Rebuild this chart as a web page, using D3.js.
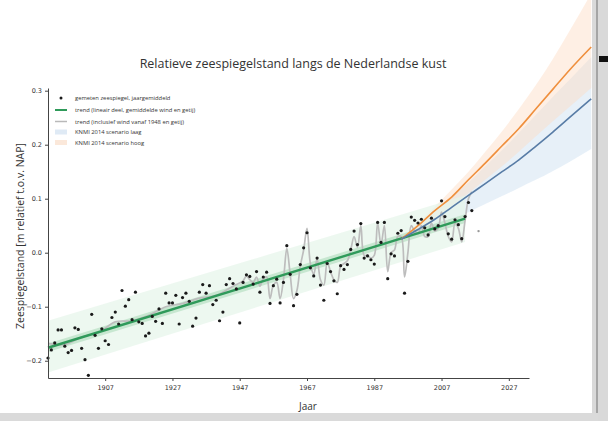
<!DOCTYPE html>
<html><head><meta charset="utf-8">
<script src="https://cdn.jsdelivr.net/npm/d3@7"></script>
<style>
html,body{margin:0;padding:0;background:#fff;}
svg{display:block;}
</style></head>
<body>
<svg id="c" width="608" height="421"></svg>
<script>
// ---- data ----
const years = d3.range(1890, 2017);
const measured = [
-0.195,-0.180,-0.167,-0.143,-0.143,-0.173,-0.185,-0.181,-0.139,-0.142,
-0.177,-0.198,-0.227,-0.114,-0.153,-0.177,-0.141,-0.163,-0.170,-0.120,
-0.110,-0.132,-0.070,-0.099,-0.087,-0.124,-0.073,-0.128,-0.131,-0.154,
-0.149,-0.118,-0.127,-0.104,-0.131,-0.075,-0.093,-0.093,-0.079,-0.132,
-0.083,-0.075,-0.090,-0.136,-0.121,-0.073,-0.059,-0.075,-0.061,-0.096,
-0.088,-0.126,-0.110,-0.059,-0.048,-0.057,-0.067,-0.130,-0.055,-0.041,
-0.044,-0.058,-0.035,-0.073,-0.045,-0.036,-0.094,-0.061,-0.049,-0.093,
-0.055,0.013,-0.040,-0.098,-0.077,-0.022,0.009,0.037,-0.028,-0.043,
-0.010,-0.060,-0.088,-0.020,-0.035,-0.052,-0.076,-0.024,-0.031,-0.022,
0.006,0.040,0.015,0.054,-0.010,-0.006,-0.013,-0.021,0.056,0.019,
0.056,-0.048,-0.002,-0.006,0.036,0.041,-0.075,-0.016,0.066,0.060,
0.055,0.062,0.046,0.033,0.064,0.044,0.050,0.096,0.067,0.035,
0.025,0.061,0.052,0.026,0.067,0.093,0.078];
const extraYear = [2018];
const extraValue = [0.040];

const trendYears = [1890, 2014];
const trendValues = [-0.176, 0.063];
const trendBandLow = [-0.222, 0.020];
const trendBandHigh = [-0.126, 0.106];
const trendInnerLow = [-0.184, 0.055];
const trendInnerHigh = [-0.168, 0.071];

const grayYears = [1890,1895,1900,1905,1910,1915,1920,1925,1930,1935,1940,1945,
1948,1949,1950,1951,1952,1953,1954,1955,1956,1957,1958,1959,1960,1961,1962,1963,1964,1965,
1966,1967,1968,1969,1970,1971,1972,1973,1974,1975,1976,1977,1978,1979,1980,1981,1982,1983,
1984,1985,1986,1987,1988,1989,1990,1991,1992,1993,1994,1995,1996,1997,1998,1999,2000,2001,
2002,2003,2004,2005,2006,2007,2008,2009,2010,2011,2012,2013,2014,2015,2016];
const grayValues = [-0.168,-0.170,-0.156,-0.148,-0.128,-0.126,-0.116,-0.100,-0.094,-0.084,-0.079,-0.062,
-0.052,-0.043,-0.050,-0.055,-0.045,-0.062,-0.048,-0.045,-0.085,-0.060,-0.055,-0.085,-0.050,0.008,-0.040,-0.085,-0.070,-0.025,
0.005,0.045,-0.020,-0.040,-0.012,-0.050,-0.060,-0.018,-0.035,-0.050,-0.055,-0.025,-0.020,-0.015,0.005,0.030,0.010,0.050,
-0.005,-0.005,-0.010,-0.005,0.055,0.015,0.050,-0.035,0.000,0.005,0.030,0.030,-0.045,0.000,0.050,0.040,0.035,0.050,
0.030,0.030,0.055,0.040,0.045,0.075,0.055,0.030,0.020,0.055,0.045,0.020,0.060,0.100,0.113];

const scenYears = [1995,2000,2005,2010,2015,2020,2025,2030,2035,2040,2045,2051.5];
const lowLine  = [0.025,0.043,0.062,0.084,0.106,0.128,0.150,0.172,0.197,0.223,0.250,0.285];
const highLine = [0.025,0.050,0.078,0.103,0.135,0.166,0.198,0.230,0.266,0.302,0.338,0.381];
const lowBandLo  = [0.025,0.036,0.048,0.061,0.075,0.090,0.105,0.120,0.135,0.151,0.168,0.192];
const lowBandHi  = [0.025,0.050,0.075,0.102,0.130,0.160,0.190,0.222,0.255,0.288,0.320,0.362];
const highBandLo = [0.025,0.045,0.065,0.087,0.110,0.135,0.160,0.187,0.215,0.243,0.270,0.305];
const highBandHi = [0.025,0.055,0.085,0.117,0.150,0.187,0.225,0.266,0.310,0.358,0.410,0.480];

const xTicks = [1907,1927,1947,1967,1987,2007,2027];
const yTicks = [-0.2,-0.1,0.0,0.1,0.2,0.3];

const legendLabels = [
 "gemeten zeespiegel, jaargemiddeld",
 "trend (lineair deel, gemiddelde wind en getij)",
 "trend (inclusief wind vanaf 1948 en getij)",
 "KNMI 2014 scenario laag",
 "KNMI 2014 scenario hoog"];

// ---- drawing ----
const svg = d3.select("#c");
const x = d3.scaleLinear().domain([1890, 2033]).range([48, 529]);
const y = d3.scaleLinear().domain([-0.232, 0.305]).range([378, 88]);

// frame shadow
svg.append("rect").attr("x",592).attr("y",0).attr("width",16).attr("height",421).attr("fill","#d9d9d9");
svg.append("rect").attr("x",596).attr("y",0).attr("width",2).attr("height",421).attr("fill","#a5a5a5");
svg.append("rect").attr("x",0).attr("y",413).attr("width",598).attr("height",8).attr("fill","#dadada");
svg.append("rect").attr("x",599).attr("y",56).attr("width",9).attr("height",6).attr("fill","#111");

const g = svg.append("g");

function band(xs, lo, hi, fill, op){
  const data = xs.map((d,i)=>({x:d, lo:lo[i], hi:hi[i]}));
  g.append("path").datum(data)
   .attr("d", d3.area().x(d=>x(d.x)).y0(d=>y(d.lo)).y1(d=>y(d.hi)).curve(d3.curveMonotoneX))
   .attr("fill", fill).attr("fill-opacity", op);
}
function line(xs, vs, stroke, w, curve){
  const data = xs.map((d,i)=>({x:d, v:vs[i]}));
  g.append("path").datum(data)
   .attr("d", d3.line().x(d=>x(d.x)).y(d=>y(d.v)).curve(curve||d3.curveLinear))
   .attr("fill","none").attr("stroke", stroke).attr("stroke-width", w);
}

// scenario bands
band(scenYears, lowBandLo, lowBandHi, "#d4e4f3", 0.55);
band(scenYears, highBandLo, highBandHi, "#fcdcc4", 0.45);
// trend band
band(trendYears, trendBandLow, trendBandHigh, "#e6f5e9", 0.7);
band(trendYears, trendInnerLow, trendInnerHigh, "#a8d9b7", 0.55);

// gray trend
line(grayYears, grayValues, "#bdbdbd", 1.7, d3.curveCatmullRom);
// green trend
line(trendYears, trendValues, "#2f9a5a", 2.4);

// scenario lines
line(scenYears, highLine, "#ef8f3d", 1.6, d3.curveMonotoneX);
line(scenYears, lowLine, "#587ca6", 1.6, d3.curveMonotoneX);

// measured dots
g.selectAll("circle.m").data(years.map((d,i)=>({x:d,v:measured[i]}))).enter()
 .append("circle").attr("class","m").attr("cx",d=>x(d.x)).attr("cy",d=>y(d.v)).attr("r",1.6).attr("fill","#1a1a1a");
g.selectAll("circle.e").data(extraYear.map((d,i)=>({x:d,v:extraValue[i]}))).enter()
 .append("circle").attr("class","e").attr("cx",d=>x(d.x)).attr("cy",d=>y(d.v)).attr("r",1.2).attr("fill","#999");

// axes
const axColor = "#444";
const xAxis = svg.append("g").attr("transform","translate(0,378)")
  .call(d3.axisBottom(x).tickValues(xTicks).tickFormat(d3.format("d")).tickSize(3).tickSizeOuter(0));
const yAxis = svg.append("g").attr("transform","translate(48,0)")
  .call(d3.axisLeft(y).tickValues(yTicks).tickFormat(d=> d===0?"0.0":d3.format(".1f")(d).replace("-","\u2212")).tickSize(3).tickSizeOuter(0));
[xAxis,yAxis].forEach(a=>{
  a.select(".domain").attr("stroke",axColor).attr("stroke-width",1);
  a.selectAll(".tick line").attr("stroke",axColor);
  a.selectAll(".tick text").attr("fill","#333").attr("font-family","DejaVu Sans, sans-serif").attr("font-size",6.5);
});
xAxis.selectAll(".tick text").attr("dy","0.9em");

// title and labels
svg.append("text").attr("x",293).attr("y",68).attr("text-anchor","middle")
  .attr("font-family","Open Sans, sans-serif").attr("font-size",12.5).attr("fill","#333")
  .text("Relatieve zeespiegelstand langs de Nederlandse kust");
svg.append("text").attr("transform","translate(24,236) rotate(-90)").attr("text-anchor","middle")
  .attr("font-family","Open Sans, sans-serif").attr("font-size",10.5).attr("fill","#333")
  .text("Zeespiegelstand  [m relatief t.o.v. NAP]");
svg.append("text").attr("x",308).attr("y",410).attr("text-anchor","middle")
  .attr("font-family","Open Sans, sans-serif").attr("font-size",10).attr("fill","#333")
  .text("Jaar");

// legend
const lg = svg.append("g");
const rowsY = [98,110,121.5,132,142.5];
lg.append("circle").attr("cx",61).attr("cy",rowsY[0]).attr("r",1.5).attr("fill","#1a1a1a");
lg.append("line").attr("x1",55).attr("x2",67).attr("y1",rowsY[1]).attr("y2",rowsY[1]).attr("stroke","#2f9a5a").attr("stroke-width",2);
lg.append("line").attr("x1",55).attr("x2",67).attr("y1",rowsY[2]).attr("y2",rowsY[2]).attr("stroke","#b9b9b9").attr("stroke-width",1.5);
lg.append("rect").attr("x",55).attr("y",rowsY[3]-2.5).attr("width",12).attr("height",5).attr("fill","#dfeaf5");
lg.append("rect").attr("x",55).attr("y",rowsY[4]-2.5).attr("width",12).attr("height",5).attr("fill","#fbe8da");
legendLabels.forEach((t,i)=>{
  lg.append("text").attr("x",75).attr("y",rowsY[i]).attr("dy","0.35em")
   .attr("font-family","Open Sans, sans-serif").attr("font-size",5.8).attr("fill","#333").text(t);
});
</script>
</body></html>
